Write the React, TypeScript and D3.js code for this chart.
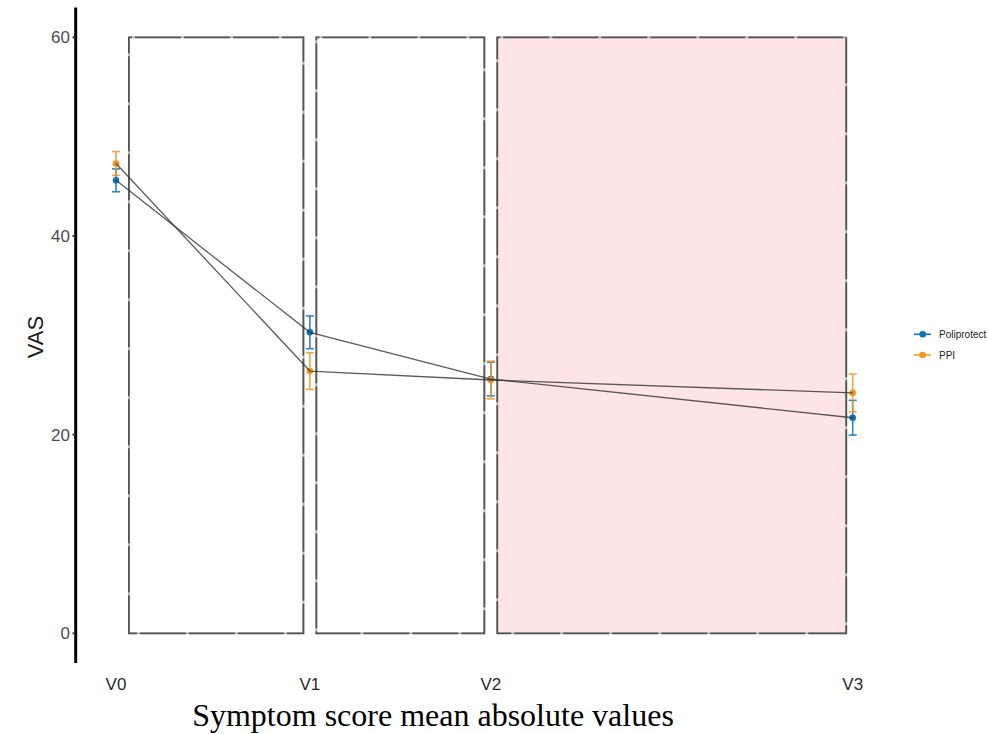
import React from "react";
import * as d3 from "d3";

// visits and their day positions on the x axis
const visits = ["V0", "V1", "V2", "V3"];
const visitDay = [0, 15, 29, 57];

// VAS means and error (+/-) per group
const poliMean = [45.6, 30.3, 25.6, 21.7];
const poliErr = [1.15, 1.65, 1.7, 1.75];
const ppiMean = [47.3, 26.4, 25.5, 24.2];
const ppiErr = [1.2, 1.85, 1.9, 1.9];

// shaded intervals between visits (in days)
const bandStart = [1, 15.5, 29.5];
const bandEnd = [14.5, 28.5, 56.5];
const bandFill = ["none", "none", "#fde5e5"];

const yTicks = [0, 20, 40, 60];

const series = [
  { name: "Poliprotect", color: "#0a72ba", mean: poliMean, err: poliErr },
  { name: "PPI", color: "#f7941d", mean: ppiMean, err: ppiErr },
];

export default function App() {
  const width = 988, height = 734;

  const x = d3.scaleLinear().domain([0, 57]).range([116, 852.7]);
  const y = d3.scaleLinear().domain([0, 60]).range([633.3, 37.3]);

  const line = d3.line<number>()
    .x((d, i) => x(visitDay[i]))
    .y(d => y(d));

  return (
    <svg width={width} height={height}
      style={{ position: "absolute", left: 0, top: 0, background: "#fff" }}
      fontFamily="Liberation Sans, Arial, sans-serif">

      {/* interval boxes */}
      {bandStart.map((s, i) => (
        <g key={"band" + i}>
          <rect x={x(s)} y={y(60)} width={x(bandEnd[i]) - x(s)} height={y(0) - y(60)}
            fill={bandFill[i]} stroke="#b4b4b4" strokeWidth={1.8} />
          <rect x={x(s)} y={y(60)} width={x(bandEnd[i]) - x(s)} height={y(0) - y(60)}
            fill="none" stroke="#555" strokeWidth={1.8} strokeDasharray="46 3" strokeDashoffset={-6} />
        </g>
      ))}

      {/* y axis */}
      <line x1={75.7} x2={75.7} y1={y(63)} y2={y(-3)} stroke="#000" strokeWidth={3} />
      {yTicks.map(t => (
        <g key={"yt" + t}>
          <line x1={72.5} x2={75} y1={y(t)} y2={y(t)} stroke="#333" strokeWidth={2} />
          <text x={70} y={y(t)} dy="0.36em" textAnchor="end" fontSize={17} fill="#4d4d4d">{t}</text>
        </g>
      ))}
      <text transform={`translate(42.5, 337) rotate(-90)`} textAnchor="middle" fontSize={22} fill="#1a1a1a">VAS</text>

      {/* x labels */}
      {visits.map((v, i) => (
        <text key={v} x={x(visitDay[i])} y={690} textAnchor="middle" fontSize={17} fill="#2a2a2a">{v}</text>
      ))}

      {/* error bars and points */}
      {series.map(s => (
        <g key={s.name}>
          {s.mean.map((m, i) => {
            const cx = x(visitDay[i]);
            return (
              <g key={i} stroke={s.color} strokeWidth={1.6} opacity={0.85}>
                <line x1={cx} x2={cx} y1={y(m + s.err[i])} y2={y(m - s.err[i])} />
                <line x1={cx - 4} x2={cx + 4} y1={y(m + s.err[i])} y2={y(m + s.err[i])} />
                <line x1={cx - 4} x2={cx + 4} y1={y(m - s.err[i])} y2={y(m - s.err[i])} />
              </g>
            );
          })}
          {s.mean.map((m, i) => (
            <circle key={"p" + i} cx={x(visitDay[i])} cy={y(m)} r={3.3} fill={s.color} />
          ))}
        </g>
      ))}

      {/* connecting lines */}
      {series.map(s => (
        <path key={"l" + s.name} d={line(s.mean) || ""} fill="none" stroke="#333" strokeWidth={1.3} opacity={0.8} />
      ))}

      {/* legend */}
      {series.map((s, i) => (
        <g key={"lg" + s.name} transform={`translate(0, ${334.3 + i * 20.7})`}>
          <line x1={914} x2={931} y1={0} y2={0} stroke={s.color} strokeWidth={1.5} />
          <circle cx={922.7} cy={0} r={3.3} fill={s.color} />
          <text x={939} y={0} dy="0.35em" fontSize={10} fill="#222">{s.name}</text>
        </g>
      ))}

      {/* caption */}
      <text x={433} y={726} textAnchor="middle" fontSize={32}
        fontFamily="Liberation Serif, Times New Roman, serif" fill="#000">
        Symptom score mean absolute values
      </text>
    </svg>
  );
}
